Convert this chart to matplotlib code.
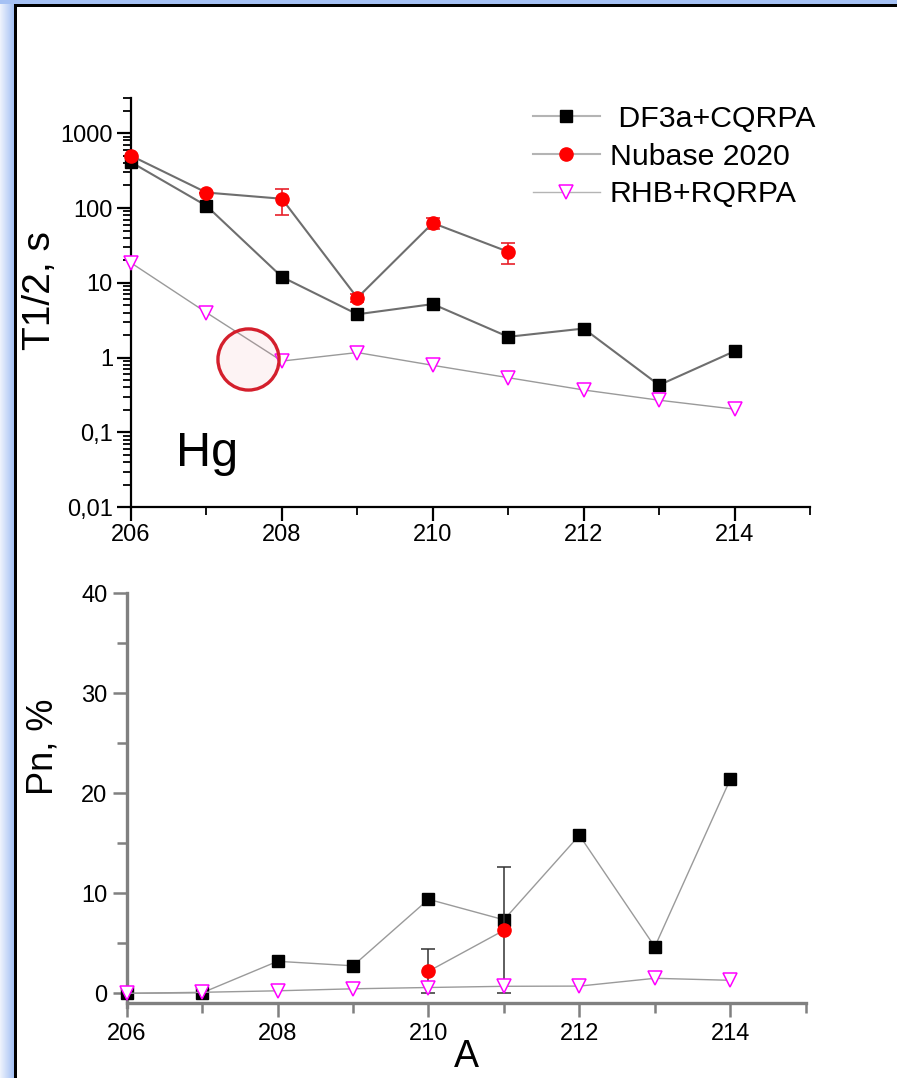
import matplotlib
matplotlib.use("Agg")
import matplotlib.pyplot as plt
import numpy as np
from matplotlib.ticker import FixedLocator, LogLocator, MultipleLocator, NullFormatter

plt.rcParams["font.family"] = ["Liberation Sans", "DejaVu Sans"]

# mass numbers
mass = [206, 207, 208, 209, 210, 211, 212, 213, 214]

# half-lives, s
t_df3a = [410, 107, 12.0, 3.8, 5.2, 1.9, 2.45, 0.43, 1.22]
t_rhb = [18.5, 4.0, 0.90, 1.17, 0.79, 0.54, 0.37, 0.27, 0.205]
mass_nub = [206, 207, 208, 209, 210, 211]
t_nub = [500, 161, 133, 6.3, 63, 26]
t_nub_lo = [0, 0, 52, 0.8, 10, 8]
t_nub_hi = [0, 0, 48, 0.8, 10, 8]

# delayed neutron emission probability, %
pn_df3a = [0.0, 0.05, 3.2, 2.75, 9.4, 7.35, 15.8, 4.65, 21.4]
pn_rhb = [0.0, 0.1, 0.25, 0.45, 0.58, 0.7, 0.72, 1.5, 1.3]
mass_nub_pn = [210, 211]
pn_nub = [2.2, 6.3]
pn_nub_err = [2.2, 6.3]

# highlighted point (top panel)
mark_a = [207.55]
mark_t = [0.95]

W, H = 897, 1078
fig = plt.figure(figsize=(W / 100, H / 100), dpi=100)
fig.patch.set_facecolor("white")

# slide frame: blue band + black line on the left and top
grad = np.linspace(0, 1, 14)
left_col = np.ones((H, 14, 3))
c0 = np.array([0.93, 0.95, 0.99])
c1 = np.array([0.65, 0.76, 0.96])
for i, g in enumerate(grad):
    left_col[:, i, :] = c0 * (1 - g) + c1 * g
fig.figimage(left_col, xo=0, yo=0, zorder=0)
top_band = np.ones((4, W, 3)) * c1
fig.figimage(top_band, xo=0, yo=H - 4, zorder=0)
fig.add_artist(plt.Rectangle((14 / W, 0), 2.5 / W, (H - 4) / H, transform=fig.transFigure,
                             color="black", lw=0))
fig.add_artist(plt.Rectangle((14 / W, (H - 6.5) / H), (W - 14) / W, 2.5 / H,
                             transform=fig.transFigure, color="black", lw=0))

# ---------------- top panel: half-lives ----------------
ax1 = fig.add_axes([131 / W, 1 - 507.3 / H, 679 / W, 409.8 / H])
ax1.set_yscale("log")
ax1.set_xlim(206, 215)
ax1.set_ylim(0.01, 3000)

ax1.plot(mass, t_df3a, color="#6e6e6e", lw=1.5, marker="s", ms=8, mfc="black",
         mec="black", label=" DF3a+CQRPA", clip_on=False, zorder=3)
ax1.errorbar(mass_nub, t_nub, yerr=[t_nub_lo, t_nub_hi], fmt="none", ecolor="#e8202a",
             elinewidth=1.2, capsize=5, capthick=1.2, zorder=4)
ax1.plot(mass_nub, t_nub, color="#6e6e6e", lw=1.5, marker="o", ms=9.5, mfc="red",
         mec="red", label="Nubase 2020", clip_on=False, zorder=4)
ax1.plot(mass, t_rhb, color="#9a9a9a", lw=1.0, marker="v", ms=10, mfc="white",
         mec="#ff00ff", mew=1.1, label="RHB+RQRPA", clip_on=False, zorder=5)

ax1.plot(mark_a, mark_t, marker="o", ms=44, ls="none", mfc=(0.93, 0.55, 0.6, 0.1),
         mec="#d41f2c", mew=2.4, zorder=6)

ax1.text(176 / W, 1 - 466 / H, "Hg", transform=fig.transFigure, fontsize=35,
         va="baseline", ha="left")

ax1.set_yticks([0.01, 0.1, 1, 10, 100, 1000])
ax1.set_yticklabels(["0,01", "0,1", "1", "10", "100", "1000"])
ax1.yaxis.set_minor_locator(LogLocator(base=10, subs=np.arange(2, 10), numticks=20))
ax1.yaxis.set_minor_formatter(NullFormatter())
ax1.set_xticks([206, 208, 210, 212, 214])
ax1.xaxis.set_minor_locator(FixedLocator([207, 209, 211, 213, 215]))

for side in ["top", "right"]:
    ax1.spines[side].set_visible(False)
for side in ["left", "bottom"]:
    ax1.spines[side].set_linewidth(1.6)
    ax1.spines[side].set_color("black")
ax1.tick_params(which="major", direction="out", length=10, width=1.6, labelsize=17, pad=3)
ax1.tick_params(axis="x", which="major", pad=2)
ax1.tick_params(which="minor", direction="out", length=6, width=1.3)

ax1.set_ylabel("T1/2, s", fontsize=28)
ax1.yaxis.set_label_coords(-0.108, 0.53)

leg = ax1.legend(loc="upper left", bbox_to_anchor=(0.592, 0.982), frameon=False, fontsize=21.8,
                 handlelength=2.2, handletextpad=0.33, labelspacing=0.32, borderpad=0,
                 borderaxespad=0)
for h in leg.legend_handles:
    h.set_color("#b4b4b4")

# ---------------- bottom panel: Pn ----------------
ax2 = fig.add_axes([126.7 / W, 1 - 1003.3 / H, 679 / W, 410 / H])
ax2.set_xlim(206, 215)
ax2.set_ylim(-1, 40)

ax2.plot(mass, pn_df3a, color="#9a9a9a", lw=1.0, marker="s", ms=8, mfc="black",
         mec="black", clip_on=False, zorder=3)
ax2.errorbar(mass_nub_pn, pn_nub, yerr=pn_nub_err, fmt="none", ecolor="#333333",
             elinewidth=1.1, capsize=5, capthick=1.1, zorder=4)
ax2.plot(mass_nub_pn, pn_nub, color="#9a9a9a", lw=1.0, marker="o", ms=9.5, mfc="red",
         mec="red", clip_on=False, zorder=4)
ax2.plot(mass, pn_rhb, color="#9a9a9a", lw=1.0, marker="v", ms=10, mfc="white",
         mec="#ff00ff", mew=1.1, clip_on=False, zorder=5)

ax2.set_yticks([0, 10, 20, 30, 40])
ax2.yaxis.set_minor_locator(MultipleLocator(5))
ax2.set_xticks([206, 208, 210, 212, 214])
ax2.xaxis.set_minor_locator(FixedLocator([207, 209, 211, 213, 215]))

for side in ["top", "right"]:
    ax2.spines[side].set_visible(False)
for side in ["left", "bottom"]:
    ax2.spines[side].set_linewidth(2.4)
    ax2.spines[side].set_color("#808080")
ax2.spines["left"].set_bounds(-1.4, 40)
ax2.tick_params(which="major", direction="out", length=10, width=1.8, color="#808080",
                labelsize=17, pad=4)
ax2.tick_params(which="minor", direction="out", length=7, width=1.8, color="#808080")

ax2.set_ylabel("Pn, %", fontsize=26)
ax2.yaxis.set_label_coords(-0.097, 0.625)
ax2.set_xlabel("A", fontsize=27, labelpad=-4)

fig.savefig("out.png", dpi=100)
